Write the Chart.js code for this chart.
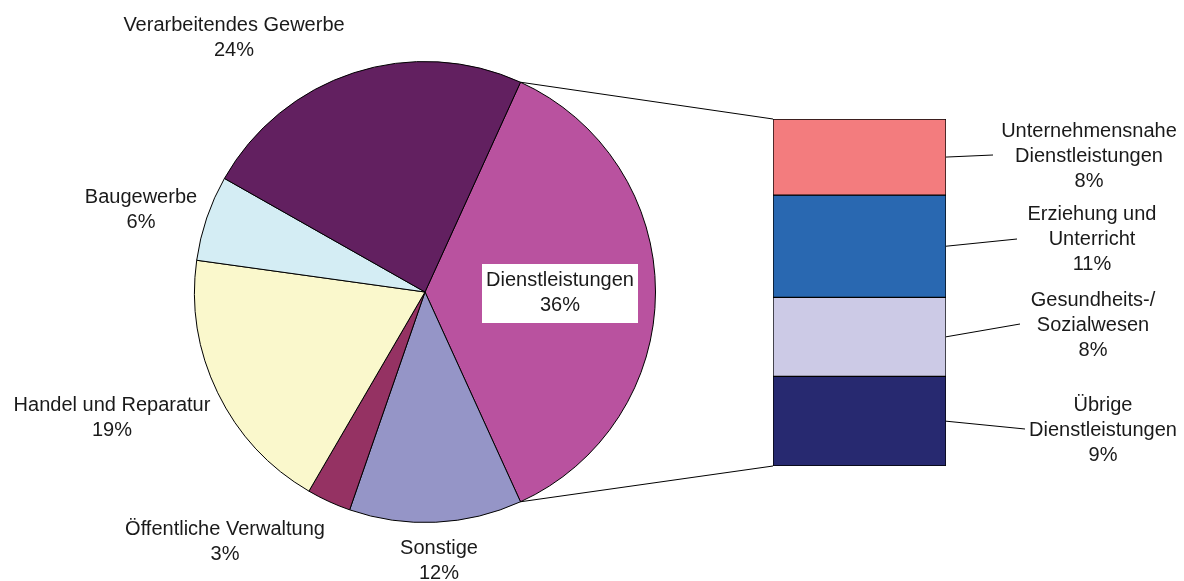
<!DOCTYPE html>
<html>
<head>
<meta charset="utf-8">
<script src="https://cdn.jsdelivr.net/npm/chart.js@4.4.1/dist/chart.umd.min.js"></script>
<style>
  html, body { margin: 0; padding: 0; background: #fff; }
  #wrap { position: relative; width: 1184px; height: 581px; overflow: hidden; }
  #wrap canvas { position: absolute; }
</style>
</head>
<body>
<div id="wrap">
  <canvas id="pie" width="1184" height="581" style="left:0;top:0"></canvas>
  <canvas id="bar" width="173" height="347" style="left:773px;top:119px"></canvas>
  <canvas id="overlay" width="1184" height="581" style="left:0;top:0"></canvas>
</div>
<script>
// pie: economic sectors (share in %)
const sectors = ['Dienstleistungen', 'Sonstige', 'Öffentliche Verwaltung', 'Handel und Reparatur', 'Baugewerbe', 'Verarbeitendes Gewerbe'];
const sectorShares = [36.4, 12.1, 3.1, 18.8, 6.0, 23.6];
const sectorColors = ['#B9529F', '#9595C7', '#953263', '#FAF8CC', '#D4EDF4', '#622060'];

// bar: breakdown of Dienstleistungen (share in %), top to bottom
const services = ['Unternehmensnahe Dienstleistungen', 'Erziehung und Unterricht', 'Gesundheits-/ Sozialwesen', 'Übrige Dienstleistungen'];
const serviceLines = [['Unternehmensnahe', 'Dienstleistungen'], ['Erziehung und', 'Unterricht'], ['Gesundheits-/', 'Sozialwesen'], ['Übrige', 'Dienstleistungen']];
const serviceShares = [7.9, 10.6, 8.2, 9.3];
const serviceColors = ['#F37C7E', '#2968B1', '#CCCAE6', '#272970'];

const FONT = '20px "Liberation Sans", Arial, Helvetica, sans-serif';
const TEXT = '#1a1a1a';

// label placement (layout only)
const pieLabelPos = [
  { x: 560, y: 293, box: true },
  { x: 439, y: 561 },
  { x: 225, y: 542 },
  { x: 112, y: 418 },
  { x: 141, y: 210 },
  { x: 234, y: 38 }
];
const barLabelPos = [
  { x: 1089, y: 156, lx: 993, ly: 155 },
  { x: 1092, y: 239, lx: 1017, ly: 239 },
  { x: 1093, y: 325, lx: 1020, ly: 324 },
  { x: 1103, y: 430, lx: 1025, ly: 429 }
];

const total = sectorShares.reduce((a, b) => a + b, 0);

const pieChart = new Chart(document.getElementById('pie'), {
  type: 'pie',
  data: {
    labels: sectors,
    datasets: [{
      data: sectorShares,
      backgroundColor: sectorColors,
      borderColor: '#000',
      borderWidth: 1,
      hoverOffset: 0
    }]
  },
  options: {
    responsive: false,
    animation: false,
    rotation: 90 - sectorShares[0] / total * 180,
    layout: { padding: { left: 194, right: 528, top: 61, bottom: 58 } },
    plugins: { legend: { display: false }, tooltip: { enabled: false } }
  }
});

const barChart = new Chart(document.getElementById('bar'), {
  type: 'bar',
  data: {
    labels: [''],
    datasets: services.map((s, i) => ({
      label: s,
      data: [serviceShares[i]],
      backgroundColor: serviceColors[i],
      borderColor: '#000',
      borderWidth: 1,
      borderSkipped: false,
      barPercentage: 1,
      categoryPercentage: 1
    }))
  },
  options: {
    responsive: false,
    animation: false,
    layout: { padding: 0 },
    scales: {
      x: { stacked: true, display: false },
      y: { stacked: true, display: false, reverse: true, min: 0, max: serviceShares.reduce((a, b) => a + b, 0) }
    },
    plugins: { legend: { display: false }, tooltip: { enabled: false } }
  }
});

// connectors + labels
const ctx = document.getElementById('overlay').getContext('2d');
const barOffX = 773, barOffY = 119;

function textLines(lines, x, y) {
  const lh = 25;
  const y0 = y - (lines.length - 1) * lh / 2;
  lines.forEach((t, i) => ctx.fillText(t, x, y0 + i * lh));
}

ctx.font = FONT;
ctx.textAlign = 'center';
ctx.textBaseline = 'middle';
ctx.strokeStyle = '#000';
ctx.lineWidth = 1;

const arc = pieChart.getDatasetMeta(0).data[0];
const segs = services.map((s, i) => barChart.getDatasetMeta(i).data[0]);
const barLeft = barOffX + segs[0].x - segs[0].width / 2;
const barRight = barOffX + segs[0].x + segs[0].width / 2;
const barTop = barOffY + Math.min(segs[0].y, segs[0].base);
const barBottom = barOffY + Math.max(segs[3].y, segs[3].base);

ctx.beginPath();
ctx.moveTo(arc.x + arc.outerRadius * Math.cos(arc.startAngle), arc.y + arc.outerRadius * Math.sin(arc.startAngle));
ctx.lineTo(barLeft, barTop);
ctx.moveTo(arc.x + arc.outerRadius * Math.cos(arc.endAngle), arc.y + arc.outerRadius * Math.sin(arc.endAngle));
ctx.lineTo(barLeft, barBottom);
ctx.stroke();

sectors.forEach((name, i) => {
  const p = pieLabelPos[i];
  const lines = [name, Math.round(sectorShares[i]) + '%'];
  if (p.box) {
    const w = Math.max(...lines.map(t => ctx.measureText(t).width)) + 8;
    ctx.fillStyle = '#fff';
    ctx.fillRect(Math.round(p.x - w / 2), p.y - 29, Math.round(w), 59);
  }
  ctx.fillStyle = TEXT;
  textLines(lines, p.x, p.y);
});

services.forEach((name, i) => {
  const el = segs[i];
  const p = barLabelPos[i];
  const midY = barOffY + (el.y + el.base) / 2;
  ctx.beginPath();
  ctx.moveTo(barRight, midY);
  ctx.lineTo(p.lx, p.ly);
  ctx.stroke();
  ctx.fillStyle = TEXT;
  textLines(serviceLines[i].concat([Math.round(serviceShares[i]) + '%']), p.x, p.y);
});
</script>
</body>
</html>
